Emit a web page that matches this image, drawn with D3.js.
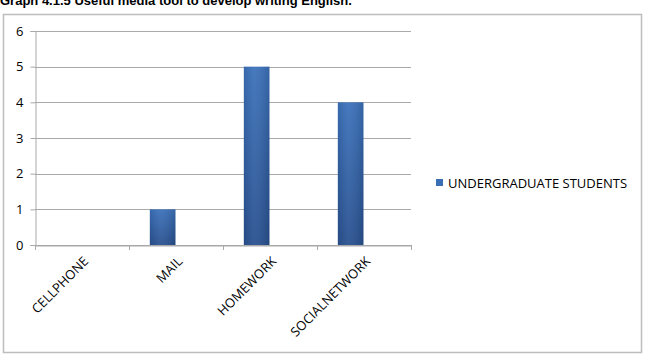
<!DOCTYPE html>
<html><head><meta charset="utf-8">
<script src="https://cdn.jsdelivr.net/npm/d3@7"></script>
<style>body{margin:0;background:#fff}svg{display:block}</style>
</head><body>
<script>
const categories = ["CELLPHONE", "MAIL", "HOMEWORK", "SOCIALNETWORK"];
const values = [0, 1, 5, 4];
const seriesName = "UNDERGRADUATE STUDENTS";
const yTicks = [0, 1, 2, 3, 4, 5, 6];
const title = "Graph 4.1.5 Useful media tool to develop writing English.";

const W = 645, H = 356;
const svg = d3.select("body").append("svg").attr("width", W).attr("height", H);
const defs = svg.append("defs");
const g1 = defs.append("linearGradient").attr("id","barg").attr("x1",0).attr("y1",0).attr("x2",0).attr("y2",1);
g1.append("stop").attr("offset","0%").attr("stop-color","#3b71ba");
g1.append("stop").attr("offset","100%").attr("stop-color","#28508f");
const g2 = defs.append("linearGradient").attr("id","barh").attr("x1",0).attr("y1",0).attr("x2",1).attr("y2",0);
g2.append("stop").attr("offset","0%").attr("stop-color","#000").attr("stop-opacity",0.08);
g2.append("stop").attr("offset","40%").attr("stop-color","#fff").attr("stop-opacity",0.06);
g2.append("stop").attr("offset","100%").attr("stop-color","#000").attr("stop-opacity",0.12);

// title (partly cut off at top, as in the reference)
svg.append("text").attr("x", 0).attr("y", 5)
  .attr("font-family","Liberation Sans, Arial, sans-serif").attr("font-weight","bold")
  .attr("font-size", 13).attr("fill","#000").text(title);

// outer border
svg.append("rect").attr("x", 3.5).attr("y", 14.5).attr("width", 638).attr("height", 338)
  .attr("fill","#fff").attr("stroke","#bdbdbd").attr("stroke-width",1.5);

const pLeft = 35, pRight = 411, pTop = 31, pBottom = 245;
const x = d3.scaleBand().domain(categories).range([pLeft, pRight]).paddingInner(0).paddingOuter(0);
const sub = d3.scaleBand().domain([seriesName, "_"]).range([0, x.bandwidth()]).paddingInner(0.04).paddingOuter(0.78);
const y = d3.scaleLinear().domain([0, 6]).range([pBottom, pTop]);

// gridlines
svg.append("g").selectAll("line").data(yTicks).join("line")
  .attr("x1", pLeft).attr("x2", pRight)
  .attr("y1", d => Math.round(y(d)) + 0.5).attr("y2", d => Math.round(y(d)) + 0.5)
  .attr("stroke", "#a9a9a9").attr("stroke-width", 1);

// y axis
const yAxis = svg.append("g").attr("transform", `translate(${pLeft + 0.5},0)`)
  .call(d3.axisLeft(y).tickValues(yTicks).tickSize(5).tickPadding(7).tickFormat(d3.format("d")));
yAxis.select(".domain").attr("stroke","#a9a9a9");
yAxis.selectAll(".tick line").attr("stroke","#a9a9a9");
yAxis.selectAll("text").attr("font-family","Open Sans, sans-serif").attr("font-size", 13).attr("fill","#000");

// x axis
const xAxis = svg.append("g").attr("transform", `translate(0,${Math.round(y(0)) + 0.5})`)
  .call(d3.axisBottom(x).tickSizeOuter(0).tickSize(0).tickFormat(""));
xAxis.select(".domain").attr("stroke","#a9a9a9");
// boundary ticks
svg.append("g").selectAll("line").data(categories.map(c => x(c)).concat([pRight])).join("line")
  .attr("x1", d => Math.round(d) + 0.5).attr("x2", d => Math.round(d) + 0.5)
  .attr("y1", Math.round(y(0))).attr("y2", Math.round(y(0)) + 5)
  .attr("stroke","#a9a9a9");

// x labels
svg.append("g").selectAll("text").data(categories).join("text")
  .attr("transform", d => `translate(${x(d) + x.bandwidth()/2 + 4},${pBottom + 14}) rotate(-45)`)
  .attr("text-anchor","end").attr("dy","0.35em")
  .attr("font-family","Open Sans, sans-serif").attr("font-size", 13).attr("fill","#000")
  .text(d => d);

// bars
const bars = svg.append("g").selectAll("g").data(categories.map((c, i) => ({c, v: values[i]}))).join("g");
bars.append("rect")
  .attr("x", d => x(d.c) + sub(seriesName)).attr("width", sub.bandwidth())
  .attr("y", d => y(d.v)).attr("height", d => y(0) - y(d.v))
  .attr("fill", "url(#barg)");
bars.append("rect")
  .attr("x", d => x(d.c) + sub(seriesName)).attr("width", sub.bandwidth())
  .attr("y", d => y(d.v)).attr("height", d => y(0) - y(d.v))
  .attr("fill", "url(#barh)");

// legend
const lg = svg.append("g").attr("transform","translate(436,179)");
lg.append("rect").attr("width",7).attr("height",7).attr("fill","#3a6eb5");
lg.append("text").attr("x", 12).attr("y", 4).attr("dy","0.35em")
  .attr("font-family","Open Sans, sans-serif").attr("font-size", 13).attr("fill","#000")
  .text(seriesName);
</script>
</body></html>
